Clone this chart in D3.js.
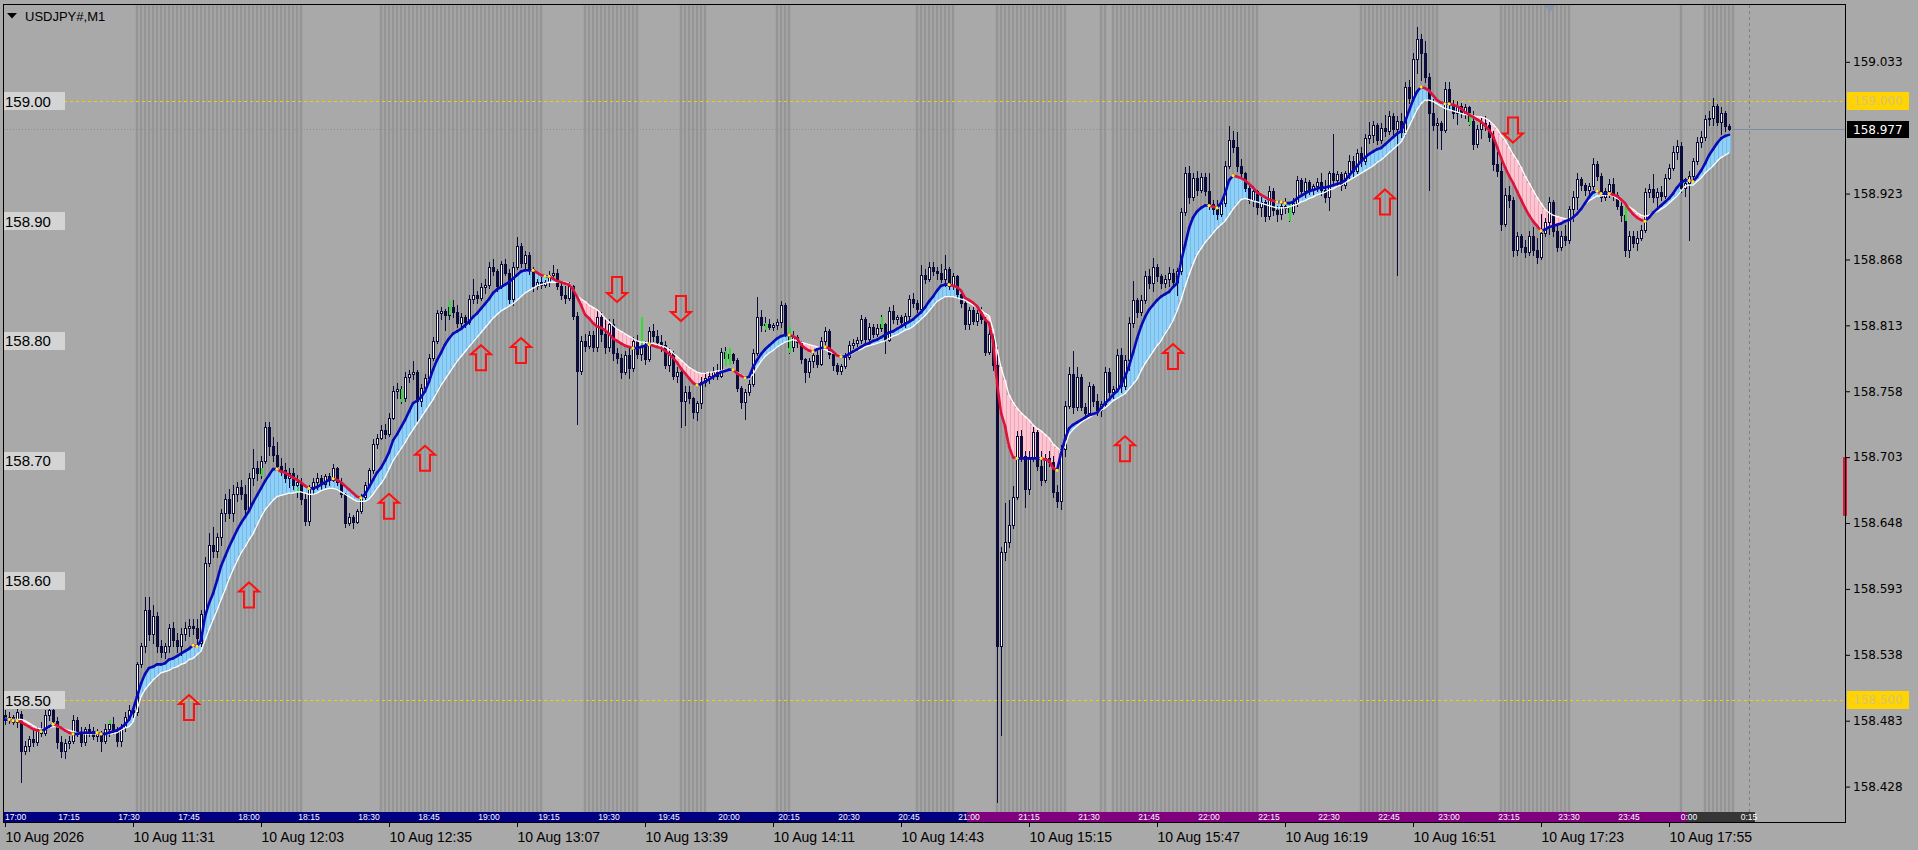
<!DOCTYPE html>
<html><head><meta charset="utf-8">
<script src="https://cdn.jsdelivr.net/npm/d3@7"></script>
<style>
html,body{margin:0;padding:0;background:#a9a9a9;overflow:hidden}
svg{display:block}
</style></head><body>
<svg id="c" width="1918" height="850"></svg>
<script>
// ---------- DATA (prices in points above 158.000, 1 point = 0.001) ----------
const symbolTitle = "USDJPY#,M1";
const opens = [488,484,486,482,489,458,462,468,465,476,
473,488,492,483,465,458,464,466,484,472,
465,476,474,470,472,466,476,480,474,466,
478,486,492,490,530,545,575,555,570,545,
540,545,560,550,545,555,560,562,560,548,
572,615,630,625,636,656,668,656,672,678,
672,660,686,694,690,700,728,712,705,696,
692,686,690,680,682,668,650,676,682,686,
681,687,684,694,682,672,648,653,649,658,
670,680,692,714,719,726,722,736,758,760,
752,770,772,774,750,761,769,786,800,823,
825,822,828,824,815,820,816,835,838,836,
845,847,862,858,846,864,857,835,862,879,
865,872,860,846,849,847,849,855,857,846,
838,836,846,821,775,800,796,805,795,820,
806,795,814,790,786,774,788,777,800,789,
796,785,808,804,799,797,780,790,771,774,
750,757,752,741,748,766,769,771,774,771,
791,786,789,784,761,749,757,764,790,820,
813,814,812,813,816,830,807,795,803,799,
785,774,783,788,781,800,808,789,780,775,
779,787,797,798,801,818,802,812,806,811,
814,801,825,818,820,816,821,835,832,827,
855,852,862,858,857,852,860,846,854,839,
832,814,826,817,823,818,791,806,780,545,
624,632,646,670,721,704,676,702,724,696,
684,702,699,674,666,710,746,772,745,770,
745,740,762,750,742,747,774,757,760,788,
762,784,815,834,824,834,854,848,862,854,
848,852,857,849,858,908,940,920,936,926,
937,925,914,910,906,915,946,968,962,946,
940,928,918,925,912,916,904,925,909,906,
913,911,908,915,934,925,933,926,929,933,
926,920,940,934,939,930,940,950,942,957,
950,969,972,980,968,978,975,988,977,984,
974,1012,1003,1035,1052,1040,1020,990,980,982,
976,1010,998,990,996,990,995,984,964,977,
982,980,970,948,942,898,922,918,876,888,
878,874,888,876,870,890,899,916,892,878,
888,884,910,920,935,930,926,929,948,938,
920,925,931,922,913,905,876,888,882,886,
893,924,927,920,924,921,936,944,958,963,
928,932,938,950,966,970,985,986,996,983,
990,979];
const highs = [492,490,488,494,491,466,470,475,478,482,
492,497,496,486,470,468,470,488,486,478,
478,480,478,476,474,480,482,486,478,480,
490,496,496,532,548,586,586,580,574,550,
548,564,565,556,560,565,568,568,568,575,
620,640,645,640,660,672,676,680,682,684,
680,690,710,700,704,732,732,720,716,702,
698,694,694,688,686,672,680,686,690,688,
689,690,697,695,686,673,656,655,660,672,
682,694,718,722,730,731,740,762,765,762,
774,776,783,776,764,772,789,803,826,828,
827,832,834,830,823,822,838,852,842,848,
852,866,868,860,867,868,860,866,887,882,
875,874,862,852,853,851,858,863,860,849,
846,849,847,824,804,806,808,808,825,824,
818,818,818,794,789,792,796,803,805,800,
800,812,814,809,805,800,794,792,778,776,
762,762,753,750,770,774,775,778,781,794,
795,792,790,786,762,760,767,793,837,826,
820,818,815,818,833,832,812,808,805,800,
786,786,792,792,803,812,810,790,782,781,
790,800,802,803,822,820,815,814,814,822,
815,828,830,822,822,823,838,840,834,863,
860,866,866,862,864,872,862,857,855,840,
834,828,828,826,828,820,810,808,795,628,
665,667,679,725,726,708,708,728,726,708,
706,708,704,680,713,750,778,792,778,772,
748,766,764,756,750,778,777,762,793,794,
788,820,850,836,838,858,860,869,864,856,
855,862,860,861,911,945,946,940,942,940,
940,940,918,918,918,950,979,975,974,952,
941,930,929,926,920,918,929,928,913,917,
919,916,919,938,936,936,934,931,936,940,
934,942,973,942,941,942,955,954,960,962,
973,983,984,982,982,989,992,990,988,990,
1016,1018,1040,1062,1056,1050,1024,1002,986,984,
1016,1016,1001,1000,999,998,996,992,980,986,
988,983,975,958,950,928,929,920,891,889,
884,892,895,886,906,903,920,918,896,892,
897,913,925,940,937,932,932,953,950,940,
928,935,936,924,916,906,892,892,892,897,
928,931,939,928,929,939,948,963,968,966,
936,942,953,970,975,989,992,1003,998,995,
992,981];
const lows = [480,481,480,478,432,455,458,462,463,470,
471,484,480,460,453,452,460,464,470,462,
463,470,468,466,458,464,470,472,462,462,
474,484,486,488,528,540,550,548,540,536,
535,540,545,540,538,550,554,555,548,545,
570,612,620,620,630,650,652,650,666,668,
655,658,680,684,686,698,705,700,692,688,
682,678,676,670,664,646,646,672,676,676,
678,680,683,680,670,645,646,644,648,656,
668,678,690,711,718,719,721,735,752,748,
750,766,768,733,746,758,768,784,798,818,
809,818,820,812,810,812,814,832,832,834,
840,844,855,842,844,855,832,830,860,862,
860,856,842,843,844,845,846,852,843,835,
832,834,818,731,772,792,794,792,792,800,
790,792,784,782,769,772,769,775,786,784,
781,783,800,796,792,777,775,768,766,728,
730,748,736,734,744,762,765,768,768,770,
780,782,782,758,744,735,755,762,788,808,
808,810,809,810,812,804,790,792,795,782,
766,770,778,778,780,796,786,776,772,772,
777,785,794,796,798,799,800,803,804,808,
790,800,815,814,813,812,818,828,824,824,
848,850,855,852,849,846,843,843,836,828,
810,810,814,813,815,788,789,776,415,471,
617,628,644,668,700,661,672,700,692,680,
682,696,670,661,660,704,744,740,742,742,
736,738,746,738,737,745,754,752,758,757,
760,776,812,820,822,832,844,842,850,844,
845,846,846,838,856,905,915,918,922,924,
922,910,906,902,904,913,944,958,942,936,
925,915,913,906,904,900,902,905,900,902,
907,900,906,913,921,920,923,923,925,922,
916,909,932,930,926,928,936,938,940,946,
948,965,966,964,965,971,973,973,855,970,
972,999,1000,1024,1018,1016,926,976,961,960,
974,994,986,981,987,986,980,960,962,969,
976,967,943,938,893,896,912,871,872,874,
870,872,872,865,868,888,889,888,875,876,
880,882,900,910,926,922,923,927,934,917,
918,920,918,910,900,871,870,878,876,884,
891,920,916,912,918,919,935,943,952,924,
921,884,935,948,962,968,980,980,980,973,
975,976];
const closes = [484,486,482,490,458,462,468,465,476,473,
488,492,483,465,458,464,466,484,472,465,
476,474,470,472,466,476,480,474,466,478,
486,492,490,530,545,575,555,570,545,540,
545,560,550,545,555,560,562,560,552,572,
615,630,625,636,656,668,656,672,678,672,
660,686,694,690,700,728,712,705,696,692,
686,690,680,682,668,650,676,682,686,681,
687,684,694,682,672,648,653,649,658,670,
680,692,714,719,726,722,736,758,760,752,
770,772,774,750,761,769,786,800,823,825,
822,828,824,815,820,816,835,838,836,845,
847,862,858,846,864,857,835,862,879,865,
872,860,846,849,847,849,855,857,846,838,
836,846,821,775,800,796,805,795,820,806,
795,814,790,786,774,788,777,800,789,796,
785,808,804,799,797,780,790,771,774,750,
757,752,741,748,766,769,771,774,771,791,
786,789,784,761,749,757,764,790,820,813,
814,812,813,816,830,807,795,803,799,785,
774,783,788,781,800,808,789,780,775,779,
787,797,798,801,818,802,812,806,811,814,
801,825,818,820,816,821,835,832,827,855,
852,862,858,857,852,860,846,854,839,832,
814,826,817,823,818,791,806,780,545,624,
632,646,670,721,704,676,702,724,696,684,
702,699,674,666,710,746,772,745,770,745,
740,762,750,742,747,774,757,760,788,762,
784,815,834,824,834,854,848,862,854,848,
852,857,849,858,908,940,920,936,926,937,
925,914,910,906,915,946,968,962,946,940,
928,918,925,912,916,904,925,909,906,913,
911,908,915,934,925,933,926,929,933,926,
920,940,934,939,930,940,950,942,957,950,
969,972,980,968,978,975,988,977,984,974,
1012,1003,1035,1052,1040,1020,990,980,982,976,
1010,998,990,996,990,995,984,964,977,982,
980,970,948,942,898,922,918,876,888,878,
874,888,876,870,890,899,916,892,878,888,
884,910,920,935,930,926,929,948,938,920,
925,931,922,913,905,876,888,882,886,893,
924,927,920,924,921,936,944,958,963,928,
932,938,950,966,970,985,986,996,983,990,
979,977];
const fastMA = [484,484,483,483,482,480,478,476,475,474,
476,478,480,479,477,475,473,472,472,473,
473,473,473,473,472,472,473,474,475,477,
480,484,492,503,514,522,527,528,530,530,
531,534,535,537,539,541,543,546,545,550,
570,581,589,600,612,620,628,635,642,648,
653,658,665,671,677,683,688,693,693,691,
690,688,686,684,682,679,677,677,678,680,
682,684,685,684,682,679,676,673,670,669,
672,678,684,690,694,700,707,717,722,728,
734,741,748,750,753,758,766,776,784,790,
797,802,806,808,810,813,816,820,823,827,
831,835,840,843,845,847,849,852,855,858,
859,859,859,857,855,854,854,852,850,849,
848,847,843,837,830,822,819,815,812,811,
809,806,802,800,798,796,795,794,794,795,
796,797,796,795,794,792,789,786,782,777,
773,769,765,763,764,766,768,770,772,774,
775,776,776,773,771,769,770,778,784,789,
793,796,799,802,804,805,805,804,802,797,
794,792,791,793,794,795,794,791,788,787,
787,789,791,793,795,797,798,800,801,803,
805,807,808,810,812,814,816,818,821,824,
828,833,837,842,846,847,847,846,845,842,
836,834,832,829,824,818,815,800,765,740,
729,712,703,702,702,702,702,702,702,702,
701,700,694,692,706,718,727,730,732,734,
736,738,739,740,744,748,751,755,758,763,
770,779,790,802,812,820,826,830,834,837,
839,841,845,848,866,880,894,903,908,911,
913,913,912,911,915,923,934,938,937,936,
934,931,928,924,922,920,918,917,916,916,
915,915,916,919,921,923,925,926,927,928,
928,929,930,931,932,934,938,942,946,950,
953,956,958,960,961,964,967,970,973,975,
983,992,1001,1008,1012,1011,1009,1005,1001,999,
998,998,997,996,994,991,989,987,985,983,
980,976,971,962,953,945,938,932,925,918,
911,905,900,896,892,893,895,896,897,898,
900,901,903,906,910,915,920,924,925,923,
923,923,922,921,918,915,910,906,903,901,
900,903,907,910,913,916,919,923,928,932,
934,934,933,937,942,948,955,960,965,969,
971,972];
const slowMA = [485,485,484,484,484,483,481,479,477,476,
476,477,478,478,477,476,475,474,473,473,
472,472,472,472,472,472,472,472,473,475,
477,478,482,492,503,509,513,517,520,523,
524,525,527,528,530,531,534,535,538,541,
550,559,567,575,584,592,601,609,616,623,
628,634,639,646,653,659,663,667,670,671,
672,673,673,674,674,673,672,672,673,675,
676,677,677,676,674,672,670,668,666,666,
666,668,672,677,681,686,693,700,705,710,
715,721,726,731,736,741,746,751,757,763,
768,773,778,783,787,791,795,799,803,807,
811,815,819,822,825,827,829,831,834,837,
840,842,844,846,847,848,849,849,849,849,
849,848,844,838,835,833,830,828,826,823,
819,816,813,810,808,806,804,802,800,799,
799,798,798,797,796,795,793,790,787,784,
781,778,776,774,773,773,774,774,775,775,
776,776,776,774,772,770,769,772,778,783,
787,790,792,795,797,799,800,801,800,799,
798,797,796,795,794,793,791,790,789,788,
787,788,790,792,793,795,796,797,798,799,
800,802,804,805,807,809,810,812,815,818,
821,825,829,833,835,837,837,837,836,835,
834,832,830,828,826,823,821,810,793,778,
767,755,749,744,740,737,734,730,727,725,
722,719,714,711,708,712,722,726,729,732,
734,736,738,740,742,744,747,750,752,754,
756,760,764,768,775,781,786,791,796,800,
806,811,817,825,834,845,855,864,872,877,
882,886,890,894,897,900,905,910,914,918,
919,918,917,916,915,914,913,912,911,911,
911,912,913,914,916,917,919,920,922,923,
924,926,927,929,930,932,934,936,938,940,
942,944,946,949,951,954,957,960,963,966,
972,979,986,993,998,1001,1001,1000,998,996,
994,993,992,991,990,989,989,988,987,987,
986,984,981,977,972,968,962,956,951,945,
938,932,926,920,915,910,907,905,904,903,
902,901,902,905,909,914,917,919,921,921,
922,922,921,919,917,914,912,910,907,905,
904,905,907,908,910,912,915,918,921,925,
929,930,930,933,936,940,943,946,950,953,
955,957];
// session highlight zones (bar index ranges)
const stripeRanges = [[33,74],[94,134],[145,158],[169,175],[193,196],[228,237],[248,265],[274,275],[277,313],[339,358],[374,391],[419,419],[425,432]];
// signal arrows: [bar, price points at arrow centre]
const arrowsUp = [[46,494],[61,588],[96,662],[105,702],[119,786],[129,792],[280,710],[292,787],[345,916]];
const arrowsDown = [[153,843],[169,827],[377,976]];
// small green markers: [bar, top points, bottom points]
const greenMarks = [[26,484,480],[64,694,687],[73,678,673],[99,760,749],[111,833,822],[159,820,795],[180,792,779],[181,794,780],[190,815,809],[196,812,790],[219,820,811],[321,915,900],[366,990,980],[405,913,900]];
const roundLevels = [159.00, 158.90, 158.80, 158.70, 158.60, 158.50];
const roundLabels = ["159.00", "158.90", "158.80", "158.70", "158.60", "158.50"];
const dashedLevels = [159.000, 158.500];
const dashedLabels = ["159.000", "158.500"];
const priceTicks = [159.033, 158.923, 158.868, 158.813, 158.758, 158.703, 158.648, 158.593, 158.538, 158.483, 158.428];
const bidPrice = 158.977;
const bidLabel = "158.977";
const axisMarkerRange = [158.654, 158.703];
const dateTickBars = [0,32,64,96,128,160,192,224,256,288,320,352,384,416];
const dateTickLabels = ["10 Aug 2026","10 Aug 11:31","10 Aug 12:03","10 Aug 12:35","10 Aug 13:07","10 Aug 13:39","10 Aug 14:11","10 Aug 14:43","10 Aug 15:15","10 Aug 15:47","10 Aug 16:19","10 Aug 16:51","10 Aug 17:23","10 Aug 17:55"];
const sessionBars = [1,16,31,46,61,76,91,106,121,136,151,166,181,196,211,226,241,256,271,286,301,316,331,346,361,376,391,406,421,436];
const sessionLabels = ["17:00","17:15","17:30","17:45","18:00","18:15","18:30","18:45","19:00","19:15","19:30","19:45","20:00","20:15","20:30","20:45","21:00","21:15","21:30","21:45","22:00","22:15","22:30","22:45","23:00","23:15","23:30","23:45","0:00","0:15"];
const sessionBands = [[-1,240.5],[240.5,420.5],[420.5,437.5]];
const futureLineBar = 436;
const topMarkerX = 1550;

// ---------- DRAWING ----------
const svg = d3.select("#c");
const W = 1918, H = 850;
const L = 4, T = 5, R = 1845, B = 822, TB = 812; // frame
const toP = v => 158 + v / 1000;
const x = d3.scaleLinear().domain([0, 431]).range([5, 1729]);
const y = d3.scaleLinear().domain([158.428, 159.033]).range([786.6, 61.8]);
const yr = p => Math.round(y(p));
const n = closes.length;

svg.append("rect").attr("width", W).attr("height", H).attr("fill", "#a9a9a9");

const defs = svg.append("defs");
defs.append("clipPath").attr("id", "plot").append("rect")
  .attr("x", L).attr("y", T).attr("width", R - L).attr("height", TB - T);
defs.append("clipPath").attr("id", "tbar").append("rect")
  .attr("x", L).attr("y", TB).attr("width", R - L).attr("height", B - TB);

const plot = svg.append("g").attr("clip-path", "url(#plot)").attr("shape-rendering", "crispEdges");

// session stripes
stripeRanges.forEach(([a, b]) => {
  plot.append("rect").attr("x", x(a) - 2).attr("width", x(b) - x(a) + 4)
    .attr("y", T).attr("height", TB - T).attr("fill", "#a4a4a4");
  plot.selectAll(null).data(d3.range(a, b + 1)).enter().append("rect")
    .attr("x", i => x(i) - 1).attr("width", 2).attr("y", T).attr("height", TB - T)
    .attr("fill", "#959595");
});

// yellow dashed levels
dashedLevels.forEach(p => {
  plot.append("line").attr("x1", L).attr("x2", R).attr("y1", yr(p) + 0.5).attr("y2", yr(p) + 0.5)
    .attr("stroke", "#f2d000").attr("stroke-dasharray", "3,3");
});
// bid dotted line
plot.append("line").attr("x1", L).attr("x2", R).attr("y1", yr(bidPrice) + 0.5).attr("y2", yr(bidPrice) + 0.5)
  .attr("stroke", "#8d8d9a").attr("stroke-dasharray", "1,2");
svg.append("line").attr("x1", x(n - 1) + 3).attr("x2", R).attr("y1", yr(bidPrice) + 0.5).attr("y2", yr(bidPrice) + 0.5)
  .attr("stroke", "#7d8ca0");
// future separator
plot.append("line").attr("x1", x(futureLineBar) + 0.5).attr("x2", x(futureLineBar) + 0.5)
  .attr("y1", T).attr("y2", TB).attr("stroke", "#7e7e7e").attr("stroke-dasharray", "3,3");

// MA ribbon fill (per bar columns)
const ribbon = plot.append("g");
d3.range(n).forEach(i => {
  const f = y(toP(fastMA[i])), s = y(toP(slowMA[i]));
  const up = fastMA[i] >= slowMA[i];
  const top = Math.min(f, s), h = Math.max(1, Math.abs(f - s));
  ribbon.append("rect").attr("x", x(i) - 2).attr("width", 4).attr("y", top).attr("height", h)
    .attr("fill", up ? "#8fd0f8" : "#ffc4cf");
  ribbon.append("rect").attr("x", x(i) + 1).attr("width", 1).attr("y", top).attr("height", h)
    .attr("fill", up ? "#78b9e6" : "#e9a9b8");
});

// candles
const cg = plot.append("g");
const dark = "#0c0c3a";
d3.range(n).forEach(i => {
  const o = opens[i], c = closes[i];
  const hi = Math.max(highs[i], o, c), lo = Math.min(lows[i], o, c);
  const xi = x(i);
  cg.append("line").attr("x1", xi + 0.5).attr("x2", xi + 0.5)
    .attr("y1", yr(toP(hi))).attr("y2", yr(toP(lo)) + 1).attr("stroke", dark);
  const yt = yr(toP(Math.max(o, c))), yb = yr(toP(Math.min(o, c)));
  if (yb - yt < 1) {
    cg.append("line").attr("x1", xi - 1).attr("x2", xi + 2).attr("y1", yt + 0.5).attr("y2", yt + 0.5).attr("stroke", dark);
  } else {
    cg.append("rect").attr("x", xi - 0.5).attr("width", 2).attr("y", yt + 0.5).attr("height", yb - yt)
      .attr("fill", c > o ? "#ffffff" : dark).attr("stroke", dark).attr("stroke-width", 1);
  }
});

// green markers
greenMarks.forEach(([i, a, b]) => {
  plot.append("rect").attr("x", x(i)).attr("width", 2).attr("y", y(toP(a))).attr("height", Math.max(2, y(toP(b)) - y(toP(a))))
    .attr("fill", "#2ee02e");
});

// MA lines
const lines = svg.append("g").attr("clip-path", "url(#plot)");
lines.append("path").datum(d3.range(n))
  .attr("d", d3.line().x(i => x(i)).y(i => y(toP(slowMA[i]))))
  .attr("fill", "none").attr("stroke", "#ffffff").attr("stroke-width", 1.3);
for (let i = 1; i < n; i++) {
  const falling = fastMA[i] < fastMA[i - 1];
  lines.append("line").attr("x1", x(i - 1)).attr("x2", x(i))
    .attr("y1", y(toP(fastMA[i - 1]))).attr("y2", y(toP(fastMA[i])))
    .attr("stroke", falling ? "#dc143c" : "#0a0ab4").attr("stroke-width", 2.6).attr("stroke-linecap", "round");
}
for (let i = 2; i < n; i++) {
  const f1 = fastMA[i] < fastMA[i - 1], f0 = fastMA[i - 1] < fastMA[i - 2];
  if (f1 !== f0) lines.append("circle").attr("cx", x(i - 1)).attr("cy", y(toP(fastMA[i - 1]))).attr("r", 1.6).attr("fill", "#f6ef2a");
}

// arrows
const arrowG = svg.append("g").attr("clip-path", "url(#plot)");
const upShape = [[0,-12.5],[10,-3.5],[5,-3.5],[5,12.5],[-5,12.5],[-5,-3.5],[-10,-3.5]];
arrowsUp.forEach(([i, p]) => {
  const cx = x(i), cy = y(toP(p));
  arrowG.append("path").attr("d", "M" + upShape.map(([a, b]) => (cx + a) + "," + (cy + b)).join("L") + "Z")
    .attr("fill", "none").attr("stroke", "#ff1010").attr("stroke-width", 2).attr("stroke-linejoin", "miter");
});
arrowsDown.forEach(([i, p]) => {
  const cx = x(i), cy = y(toP(p));
  arrowG.append("path").attr("d", "M" + upShape.map(([a, b]) => (cx + a) + "," + (cy - b)).join("L") + "Z")
    .attr("fill", "none").attr("stroke", "#ff1010").attr("stroke-width", 2).attr("stroke-linejoin", "miter");
});

// top triangle marker
svg.append("path").attr("d", `M${topMarkerX - 6},${T}L${topMarkerX + 6},${T}L${topMarkerX},${T + 7}Z`).attr("fill", "#8796a8");

// left round-level labels
roundLevels.forEach((p, k) => {
  const cy = y(p);
  svg.append("rect").attr("x", L).attr("y", Math.round(cy) - 9).attr("width", 61).attr("height", 18).attr("fill", "#d4d4d4");
  svg.append("text").attr("x", L + 1).attr("y", cy).attr("dy", "0.36em")
    .attr("font-family", "Liberation Sans, Arial, sans-serif").attr("font-size", 15).attr("fill", "#000")
    .text(roundLabels[k]);
});

// title
svg.append("path").attr("d", "M7,13L17,13L12,18.5Z").attr("fill", "#000");
svg.append("text").attr("x", 25).attr("y", 21).attr("font-family", "Liberation Sans, Arial, sans-serif")
  .attr("font-size", 13).attr("fill", "#000").text(symbolTitle);

// time band
const tb = svg.append("g").attr("clip-path", "url(#tbar)");
const bandColors = ["#000080", "#800080", "#363636"];
sessionBands.forEach(([a, b], k) => {
  tb.append("rect").attr("x", x(a)).attr("width", x(b) - x(a)).attr("y", TB).attr("height", B - TB).attr("fill", bandColors[k]);
});
sessionBars.forEach((bi, k) => {
  const first = k === 0;
  tb.append("text").attr("x", first ? L + 1 : x(bi)).attr("y", TB + 7.5).attr("text-anchor", first ? "start" : "middle")
    .attr("font-family", "Liberation Sans Narrow, Liberation Sans, Arial, sans-serif").attr("font-size", 8.5)
    .attr("fill", "#ffffff").text(sessionLabels[k]);
});

// right axis marker bar
svg.append("rect").attr("x", R - 2).attr("width", 4).attr("y", y(axisMarkerRange[1])).attr("height", y(axisMarkerRange[0]) - y(axisMarkerRange[1]))
  .attr("fill", "#dc143c");

// frame
svg.append("rect").attr("x", L - 0.5).attr("y", T - 0.5).attr("width", R - L + 1).attr("height", B - T + 1)
  .attr("fill", "none").attr("stroke", "#000").attr("shape-rendering", "crispEdges");

// right axis
const ax = svg.append("g").attr("transform", `translate(${R + 1},0)`)
  .call(d3.axisRight(y).tickValues(priceTicks).tickSize(4).tickFormat(d3.format(".3f")));
ax.select(".domain").remove();
ax.selectAll(".tick line").attr("stroke", "#000");
ax.selectAll(".tick text").attr("x", 7).attr("fill", "#000")
  .attr("font-family", "DejaVu Sans, Verdana, sans-serif").attr("font-size", 12);

// right gold labels and bid label
dashedLevels.forEach((p, k) => {
  const cy = Math.round(y(p));
  svg.append("rect").attr("x", R + 2).attr("y", cy - 9).attr("width", 62).attr("height", 18).attr("fill", "#ffd400");
  svg.append("text").attr("x", R + 8).attr("y", cy).attr("dy", "0.36em").attr("fill", "#d8c27a")
    .attr("font-family", "DejaVu Sans, Verdana, sans-serif").attr("font-size", 12).text(dashedLabels[k]);
});
{
  const cy = Math.round(y(bidPrice));
  svg.append("rect").attr("x", R + 2).attr("y", cy - 8).attr("width", 62).attr("height", 17).attr("fill", "#000");
  svg.append("text").attr("x", R + 8).attr("y", cy).attr("dy", "0.38em").attr("fill", "#fff")
    .attr("font-family", "DejaVu Sans, Verdana, sans-serif").attr("font-size", 12).text(bidLabel);
}

// bottom axis
const bx = svg.append("g").attr("transform", `translate(0,${B})`)
  .call(d3.axisBottom(x).tickValues(dateTickBars).tickSize(5).tickFormat((d, k) => dateTickLabels[k]));
bx.select(".domain").remove();
bx.selectAll(".tick line").attr("stroke", "#000");
bx.selectAll(".tick text").attr("text-anchor", "start").attr("x", 0).attr("y", 20).attr("dy", 0)
  .attr("fill", "#000").attr("font-family", "Liberation Sans, Arial, sans-serif").attr("font-size", 14);
</script>
</body></html>
